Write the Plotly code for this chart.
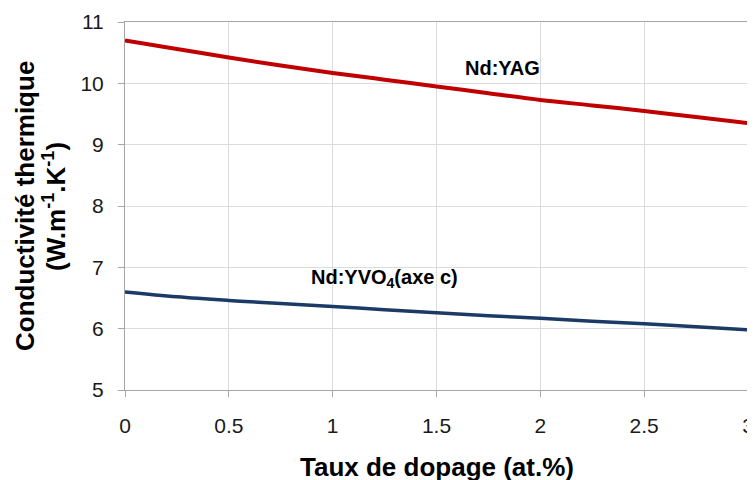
import plotly.graph_objects as go

# Dopant concentration (at.%)
dopage = [0, 0.25, 0.5, 0.75, 1, 1.25, 1.5, 1.75, 2, 2.25, 2.5, 2.75, 3]

# Thermal conductivity (W.m-1.K-1)
k_yag = [10.70, 10.56, 10.42, 10.29, 10.17, 10.06, 9.95, 9.84, 9.73, 9.64, 9.55, 9.45, 9.35]
k_yvo4 = [6.60, 6.52, 6.46, 6.41, 6.36, 6.31, 6.26, 6.21, 6.17, 6.12, 6.08, 6.03, 5.98]

FONT = 'Liberation Sans, Arial'

fig = go.Figure()

fig.add_trace(go.Scatter(
    x=dopage, y=k_yag, mode='lines', name='Nd:YAG',
    line=dict(color='#c00000', width=4, shape='spline'),
))
fig.add_trace(go.Scatter(
    x=dopage, y=k_yvo4, mode='lines', name='Nd:YVO4 (axe c)',
    line=dict(color='#1b3a66', width=3.5, shape='spline'),
))

lab_font = dict(family=FONT, size=20, color='black')
fig.add_annotation(x=1.82, y=10.25, text='<b>Nd:YAG</b>', showarrow=False, font=lab_font)
fig.add_annotation(x=1.25, y=6.82, text='<b>Nd:YVO<sub>4</sub>(axe c)</b>', showarrow=False, font=lab_font)

# axis titles as annotations (two-line y title with tight spacing)
title_font = dict(family=FONT, size=26, color='black')
fig.add_annotation(xref='paper', yref='paper', x=-0.1605, y=0.5, textangle=-90,
                   xanchor='center', yanchor='middle',
                   text='<b>Conductivité thermique</b>', showarrow=False, font=title_font)
fig.add_annotation(xref='paper', yref='paper', x=-0.114, y=0.5, textangle=-90,
                   xanchor='center', yanchor='middle',
                   text='<b>(W.m<sup>-1</sup>.K<sup>-1</sup>)</b>', showarrow=False, font=title_font)
fig.add_annotation(xref='paper', yref='paper', x=0.5, y=-0.209,
                   xanchor='center', yanchor='middle',
                   text='<b>Taux de dopage (at.%)</b>', showarrow=False, font=title_font)

axis_common = dict(
    showline=True, linecolor='#a6a6a6', linewidth=1, mirror=True,
    showgrid=True, gridcolor='#dcdcdc', gridwidth=1,
    ticks='outside', ticklen=6, tickcolor='#a6a6a6',
    tickfont=dict(family=FONT, size=21, color='#1a1a1a'),
    ticklabeloverflow='allow',
    zeroline=False, automargin=False,
)

# page body has an 8px default margin, so the figure is sized to fit inside it
fig.update_layout(
    width=747, height=472,
    margin=dict(l=117, r=7, t=14, b=90),
    paper_bgcolor='white', plot_bgcolor='white',
    showlegend=False,
    xaxis=dict(range=[0, 3], dtick=0.5, ticklabelstandoff=11, **axis_common),
    yaxis=dict(range=[5, 11], dtick=1, ticklabelstandoff=10, **axis_common),
)

fig.write_html("out.html")
